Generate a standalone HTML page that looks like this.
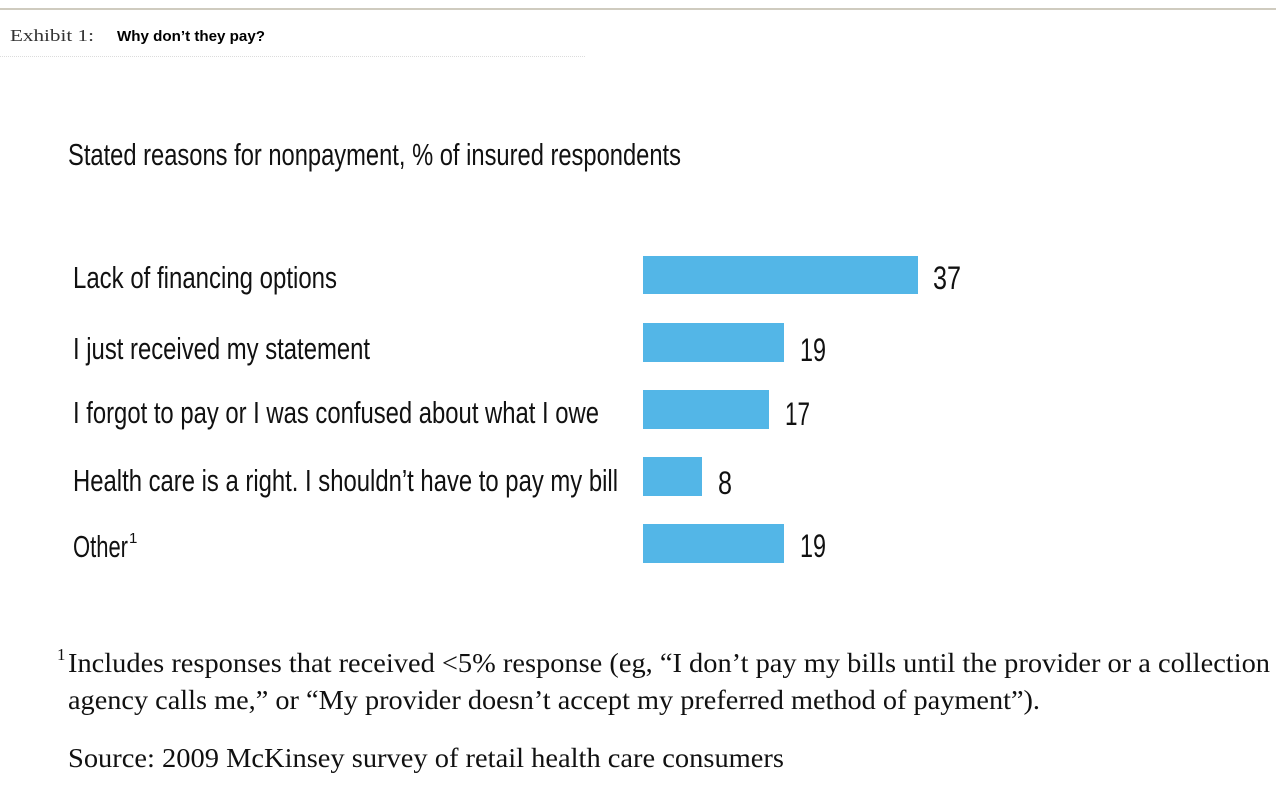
<!DOCTYPE html>
<html><head><meta charset="utf-8"><style>
html,body{margin:0;padding:0;background:#fff;}
svg{display:block;}
</style></head><body>
<svg width="1276" height="801" viewBox="0 0 1276 801" xmlns="http://www.w3.org/2000/svg">
<rect width="1276" height="801" fill="#fff"/>
<rect x="0" y="8" width="1276" height="2" fill="#cfcbbf"/>
<line x1="0" y1="56.5" x2="585" y2="56.5" stroke="#dcdcdc" stroke-width="1" stroke-dasharray="1,1"/>
<text x="10" y="41" font-family="Liberation Serif, serif" font-size="17" fill="#333" textLength="84" lengthAdjust="spacingAndGlyphs">Exhibit 1:</text>
<text x="117" y="41" font-family="Liberation Sans, sans-serif" font-size="15" font-weight="bold" fill="#000" textLength="148" lengthAdjust="spacingAndGlyphs">Why don’t they pay?</text>
<g font-family="Liberation Sans, sans-serif" fill="#111">
<text x="68" y="165" font-size="31" textLength="613" lengthAdjust="spacingAndGlyphs">Stated reasons for nonpayment, % of insured respondents</text>
<text x="73" y="288" font-size="31" textLength="264" lengthAdjust="spacingAndGlyphs">Lack of financing options</text>
<text x="73" y="359" font-size="31" textLength="297" lengthAdjust="spacingAndGlyphs">I just received my statement</text>
<text x="73" y="423" font-size="31" textLength="526" lengthAdjust="spacingAndGlyphs">I forgot to pay or I was confused about what I owe</text>
<text x="73" y="491" font-size="31" textLength="545" lengthAdjust="spacingAndGlyphs">Health care is a right. I shouldn’t have to pay my bill</text>
<text x="73" y="557" font-size="31" textLength="55" lengthAdjust="spacingAndGlyphs">Other</text>
<text x="129" y="543" font-size="15">1</text>
</g>
<g fill="#53b6e7">
<rect x="643" y="256" width="275" height="38"/>
<rect x="643" y="323" width="141" height="39"/>
<rect x="643" y="390" width="126" height="39"/>
<rect x="643" y="457" width="59" height="39"/>
<rect x="643" y="524" width="141" height="39"/>
</g>
<g font-family="Liberation Sans, sans-serif" font-size="32" fill="#111">
<text x="933" y="289" textLength="28" lengthAdjust="spacingAndGlyphs">37</text>
<text x="800" y="361" textLength="26" lengthAdjust="spacingAndGlyphs">19</text>
<text x="785" y="425" textLength="25" lengthAdjust="spacingAndGlyphs">17</text>
<text x="718" y="494" textLength="14" lengthAdjust="spacingAndGlyphs">8</text>
<text x="800" y="557" textLength="26" lengthAdjust="spacingAndGlyphs">19</text>
</g>
<g font-family="Liberation Serif, serif" font-size="27" fill="#111">
<text x="57" y="660" font-size="17">1</text>
<text x="68" y="672" textLength="1202" lengthAdjust="spacingAndGlyphs">Includes responses that received &lt;5% response (eg, “I don’t pay my bills until the provider or a collection</text>
<text x="68" y="709" textLength="972" lengthAdjust="spacingAndGlyphs">agency calls me,” or “My provider doesn’t accept my preferred method of payment”).</text>
<text x="68" y="767" textLength="716" lengthAdjust="spacingAndGlyphs">Source: 2009 McKinsey survey of retail health care consumers</text>
</g>
</svg>
</body></html>
